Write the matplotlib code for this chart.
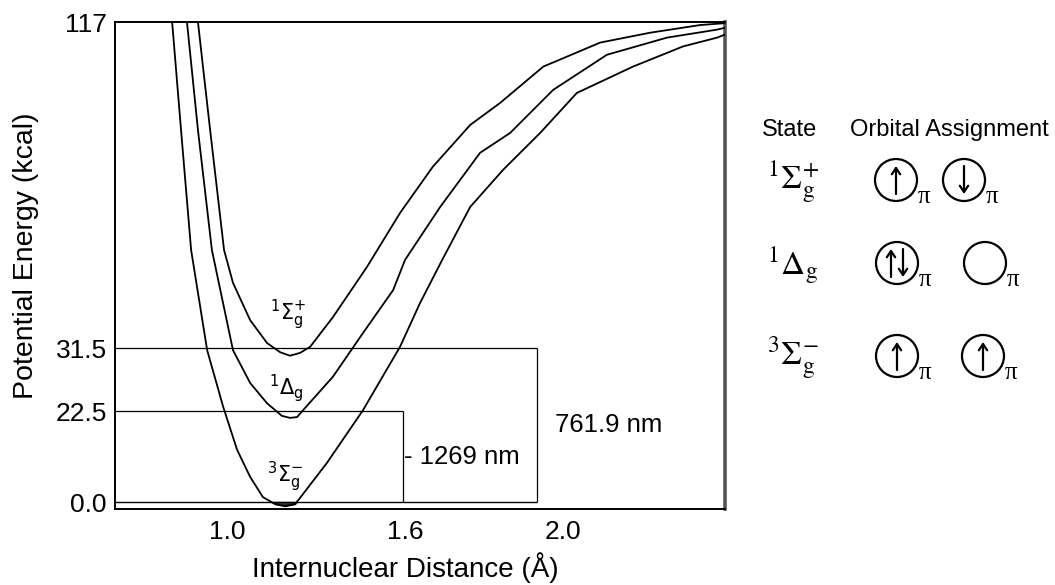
import numpy as np
import matplotlib
matplotlib.use("Agg")
import matplotlib.pyplot as plt
from matplotlib.patches import Circle

plt.rcParams['font.family'] = ['Liberation Sans', 'DejaVu Sans']
plt.rcParams['mathtext.fontset'] = 'stix'

# potential energy curves of O2 (r in Angstrom, E in kcal)
r_ground = [0.815, 0.845, 0.879, 0.933, 0.987, 1.034, 1.078, 1.121, 1.162, 1.195, 1.229, 1.246,
            1.337, 1.458, 1.583, 1.638, 1.694, 1.765, 1.848, 1.942, 2.035, 2.177, 2.304, 2.390, 2.410]
e_ground = [117, 88.7, 57.2, 31.2, 23.1, 12.9, 6.2, 1.2, -0.5, -1.0, -0.5, 1.0,
            9.7, 22.6, 31.8, 43.3, 54.6, 68.5, 78.2, 87.9, 98.4, 105.3, 110.6, 112.9, 113.7]

r_delta = [0.865, 0.902, 0.949, 1.020, 1.078, 1.135, 1.185, 1.212, 1.236, 1.256, 1.357, 1.458,
           1.560, 1.600, 1.689, 1.790, 1.866, 1.975, 2.111, 2.263, 2.390, 2.410]
e_delta = [117, 88.7, 57.2, 31.2, 26.5, 23.6, 21.3, 20.8, 21.0, 22.6, 27.4, 35.4,
           46.7, 54.6, 68.5, 82.7, 87.9, 99.2, 108.4, 112.9, 115.0, 115.5]

r_sigma = [0.902, 0.943, 0.990, 1.020, 1.078, 1.135, 1.179, 1.212, 1.246, 1.280, 1.357, 1.472,
           1.583, 1.670, 1.765, 1.841, 1.950, 2.094, 2.221, 2.347, 2.410]
e_sigma = [117, 88.7, 57.2, 48.6, 38.8, 32.8, 30.9, 30.4, 30.8, 31.8, 39.6, 52.8,
           66.9, 79.0, 90.0, 95.8, 105.3, 111.6, 114.2, 116.2, 116.7]

curve_labels = [r'${}^{1}\Sigma_{\mathrm{g}}^{+}$', r'${}^{1}\Delta_{\mathrm{g}}$', r'${}^{3}\Sigma_{\mathrm{g}}^{-}$']
curve_label_r = [1.205, 1.199, 1.195]
curve_label_e = [40.2, 25.8, 6.2]

# the original axes are schematic: ticks are not evenly spaced
x_ticks = [1.0, 1.6, 2.0]
x_tick_labels = ['1.0', '1.6', '2.0']
y_ticks = [0.0, 22.5, 31.5, 117]
y_tick_labels = ['0.0', '22.5', '31.5', '117']

# excitation levels and emission wavelengths
levels = [22.5, 31.5]
bracket_r = [1.593, 1.934]
bracket_labels = ['1269 nm', '761.9 nm']

# orbital assignment table
states = [r'${}^{1}\Sigma_{\mathrm{g}}^{+}$', r'${}^{1}\Delta_{\mathrm{g}}$', r'${}^{3}\Sigma_{\mathrm{g}}^{-}$']
occupancy = [['u', 'd'], ['ud', ''], ['u', 'u']]

# piecewise axis maps (value -> drawing units) to reproduce the uneven spacing
xk_val = [0.6, 1.0, 1.6, 2.0, 2.6]
xk_pos = [108.3, 227, 405, 563, 800]
yk_val = [-5, 0, 22.5, 31.5, 117, 130]
yk_pos = [-20.2, 0, 91, 154, 480, 529.5]


def make_scale(kv, kp):
    fwd = lambda v: np.interp(v, kv, kp)
    inv = lambda p: np.interp(p, kp, kv)
    return fwd, inv


fx = make_scale(xk_val, xk_pos)
fy = make_scale(yk_val, yk_pos)

W, H = 1055, 585
fig = plt.figure(figsize=(W / 100, H / 100), dpi=100)
ax = fig.add_axes([115 / W, (H - 509) / H, 610 / W, 487 / H])
ax.set_xscale('function', functions=fx)
ax.set_yscale('function', functions=fy)
ax.set_xlim(0.6225, 2.410)
ax.set_ylim(-1.73, 117)

for r, e in [(r_ground, e_ground), (r_delta, e_delta), (r_sigma, e_sigma)]:
    ax.plot(r, e, color='black', lw=1.3, solid_joinstyle='round', zorder=3)
eg = np.array(e_ground)
ax.fill_between(r_ground, e_ground, 0, where=eg < 0, color='#333333', interpolate=True, zorder=2)

for lab, r, e in zip(curve_labels, curve_label_r, curve_label_e):
    ax.text(r, e, lab, ha='center', va='center', fontsize=15, math_fontfamily='dejavusans')

# level lines and brackets
x0 = ax.get_xlim()[0]
ax.hlines(0, x0, bracket_r[1], color='black', lw=1.0, zorder=2)
for lev, br, lab in zip(levels, bracket_r, bracket_labels):
    ax.hlines(lev, x0, br, color='black', lw=0.9)
    ax.vlines(br, 0, lev, color='black', lw=0.9)
    mid = fy[1]((fy[0](0) + fy[0](lev)) / 2)
    txt = '- ' + lab if lab.startswith('1269') else lab
    off = 1 if lab.startswith('1269') else 13
    ax.annotate(txt, xy=(br, mid), xytext=(off, 0), textcoords='offset points',
                ha='left', va='center', fontsize=18.5)

ax.set_xticks(x_ticks)
ax.set_xticklabels(x_tick_labels)
ax.set_yticks(y_ticks)
ax.set_yticklabels(y_tick_labels)
ax.xaxis.set_minor_locator(matplotlib.ticker.NullLocator())
ax.yaxis.set_minor_locator(matplotlib.ticker.NullLocator())
ax.tick_params(length=0, labelsize=19)
ax.tick_params(axis='x', pad=8)
ax.tick_params(axis='y', pad=6)
for s in ['left', 'top', 'bottom']:
    ax.spines[s].set_linewidth(1.4)
ax.spines['right'].set_linewidth(2.6)
ax.spines['right'].set_color('#555555')

fig.text(26 / W, 1 - 256 / H, 'Potential Energy (kcal)', rotation=90, ha='center', va='center', fontsize=20.5)
fig.text(405 / W, 1 - 577 / H, 'Internuclear Distance (Å)', ha='center', va='baseline', fontsize=20)

# orbital assignment panel, in figure pixels
ax2 = fig.add_axes([0, 0, 1, 1])
ax2.set_xlim(0, W)
ax2.set_ylim(H, 0)
ax2.axis('off')
ax2.patch.set_alpha(0)

ax2.text(790, 130, 'State', ha='center', va='center', fontsize=17)
ax2.text(949, 130, 'Orbital Assignment', ha='center', va='center', fontsize=17)

row_y = [180, 263, 356]
circle_x = [(896, 964), (897, 985), (897, 983)]
rad = 21
arrow = dict(arrowstyle='->,head_length=0.45,head_width=0.3', color='black', lw=1.6, shrinkA=0, shrinkB=0)

for st, occ, cy, cxs in zip(states, occupancy, row_y, circle_x):
    ax2.text(793, cy + 2, st, ha='center', va='center', fontsize=24)
    for o, cx in zip(occ, cxs):
        ax2.add_patch(Circle((cx, cy), rad, fill=False, lw=1.6, color='black'))
        ax2.text(cx + rad + 7, cy + 17, 'π', ha='center', va='center', fontsize=18, family='Liberation Serif')
        if o == 'u':
            ax2.annotate('', xy=(cx, cy - 14), xytext=(cx, cy + 14), arrowprops=arrow)
        elif o == 'd':
            ax2.annotate('', xy=(cx, cy + 14), xytext=(cx, cy - 14), arrowprops=arrow)
        elif o == 'ud':
            ax2.annotate('', xy=(cx - 6, cy - 14), xytext=(cx - 6, cy + 14), arrowprops=arrow)
            ax2.annotate('', xy=(cx + 6, cy + 14), xytext=(cx + 6, cy - 14), arrowprops=arrow)

fig.savefig('out.png', dpi=100)
